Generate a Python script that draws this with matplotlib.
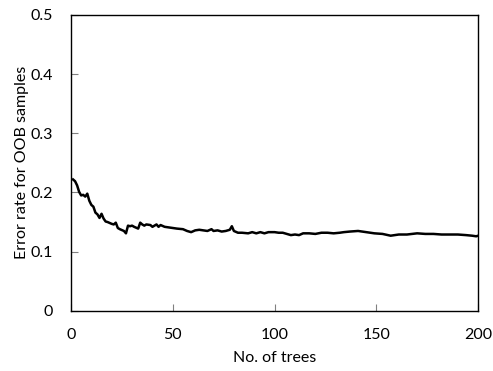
import matplotlib
matplotlib.use("Agg")
import matplotlib.pyplot as plt

trees = [1, 2, 3, 4, 5, 6, 7, 8, 9, 10, 11, 12, 13, 14, 15, 16, 17, 18, 20, 21, 22, 23,
         24, 26, 27, 28, 29, 30, 31, 33, 34, 35, 36, 37, 39, 40, 42, 43, 44, 46, 48, 50,
         52, 55, 57, 59, 61, 63, 65, 67, 69, 70, 72, 74, 76, 78, 79, 80, 82, 84, 87, 89,
         91, 93, 95, 97, 100, 102, 104, 106, 108, 110, 112, 114, 117, 120, 123, 126, 129,
         132, 134, 137, 141, 145, 149, 153, 157, 161, 165, 170, 174, 178, 182, 186, 190,
         194, 197, 199, 200]
error = [0.222, 0.219, 0.212, 0.201, 0.195, 0.196, 0.193, 0.198, 0.186, 0.179, 0.176,
         0.166, 0.163, 0.157, 0.164, 0.156, 0.151, 0.150, 0.147, 0.146, 0.149, 0.140,
         0.138, 0.135, 0.131, 0.144, 0.143, 0.144, 0.142, 0.139, 0.149, 0.146, 0.144,
         0.146, 0.145, 0.142, 0.146, 0.142, 0.145, 0.142, 0.141, 0.140, 0.139, 0.138,
         0.135, 0.133, 0.136, 0.137, 0.136, 0.135, 0.138, 0.135, 0.136, 0.134, 0.135,
         0.137, 0.143, 0.135, 0.132, 0.132, 0.131, 0.133, 0.131, 0.133, 0.131, 0.133,
         0.133, 0.132, 0.132, 0.130, 0.128, 0.129, 0.128, 0.131, 0.131, 0.130, 0.132,
         0.132, 0.131, 0.132, 0.133, 0.134, 0.135, 0.133, 0.131, 0.130, 0.127, 0.129,
         0.129, 0.131, 0.130, 0.130, 0.129, 0.129, 0.129, 0.128, 0.127, 0.126, 0.127]

x_ticks = [0, 50, 100, 150, 200]
y_ticks = [0, 0.1, 0.2, 0.3, 0.4, 0.5]
y_tick_labels = ["0", "0.1", "0.2", "0.3", "0.4", "0.5"]

plt.rcParams['font.family'] = ['Lato', 'DejaVu Sans']

fig = plt.figure(figsize=(4.93, 3.71), dpi=100)
ax = fig.add_axes([0.144, 0.162, 0.826, 0.798])
ax.plot(trees, error, color='black', linewidth=1.8, solid_joinstyle='round')
ax.set_xlim(0, 200)
ax.set_ylim(0, 0.5)
ax.set_xticks(x_ticks)
ax.set_yticks(y_ticks)
ax.set_yticklabels(y_tick_labels)
ax.tick_params(direction='in', length=5, width=0.8, color='#808080',
               labelsize=11.5, labelcolor='black')
ax.tick_params(axis='x', pad=12)
ax.tick_params(axis='y', pad=13)
for s in ax.spines.values():
    s.set_color('black')
    s.set_linewidth(1.0)
ax.set_xlabel("No. of trees", fontsize=11.5, labelpad=7)
ax.set_ylabel("Error rate for OOB samples", fontsize=11.5, labelpad=1)
fig.savefig("out.png", dpi=100, facecolor='white')
